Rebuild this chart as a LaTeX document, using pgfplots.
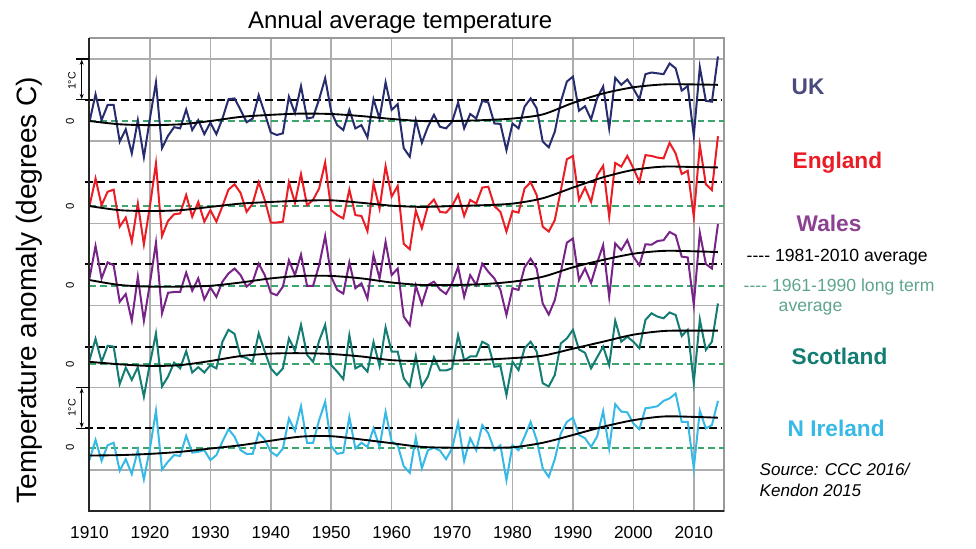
\documentclass[border=0pt]{standalone}
\usepackage{pgfplots}
\usepackage{pgfplotstable}
\pgfplotsset{compat=1.18}
\usepackage{fontspec}
\setmainfont{Liberation Sans}
\usetikzlibrary{arrows.meta}

\definecolor{ukc}{RGB}{38,44,110}
\definecolor{enc}{RGB}{235,28,36}
\definecolor{wac}{RGB}{120,35,135}
\definecolor{scc}{RGB}{20,125,115}
\definecolor{nic}{RGB}{55,185,230}
\definecolor{grn}{RGB}{60,165,110}
\definecolor{grntxt}{RGB}{95,165,140}
\definecolor{uklab}{RGB}{75,75,125}
\definecolor{walab}{RGB}{140,65,145}

% annual anomalies (degC) against 1961-1990
\pgfplotstableread{
yr uk en wa sc ni
1910 -0.02 0.00 0.18 0.10 -0.30
1911 0.65 0.67 0.97 0.62 0.19
1912 0.02 0.02 0.18 0.06 -0.32
1913 0.39 0.35 0.57 0.45 0.06
1914 0.39 0.40 0.50 0.43 0.12
1915 -0.50 -0.50 -0.39 -0.48 -0.56
1916 -0.20 -0.28 -0.20 -0.08 -0.28
1917 -0.79 -0.87 -0.85 -0.38 -0.64
1918 0.02 0.06 0.22 -0.07 -0.06
1919 -0.88 -0.93 -0.85 -0.79 -0.77
1920 0.06 0.00 0.06 0.02 -0.02
1921 0.94 1.04 1.05 0.75 0.90
1922 -0.66 -0.73 -0.67 -0.54 -0.53
1923 -0.36 -0.36 -0.17 -0.30 -0.34
1924 -0.15 -0.20 -0.15 0.04 -0.18
1925 -0.18 -0.18 -0.15 -0.10 -0.20
1926 0.28 0.27 0.32 0.32 0.29
1927 -0.22 -0.26 -0.12 -0.20 -0.12
1928 0.02 0.10 0.18 -0.07 -0.10
1929 -0.32 -0.38 -0.33 -0.20 -0.06
1930 -0.04 -0.10 -0.04 -0.02 -0.30
1931 -0.32 -0.38 -0.27 -0.10 -0.18
1932 0.06 0.00 0.10 0.55 0.15
1933 0.53 0.40 0.30 0.84 0.45
1934 0.55 0.53 0.42 0.74 0.27
1935 0.27 0.32 0.26 0.19 -0.06
1936 -0.03 -0.14 -0.02 0.15 -0.15
1937 0.06 0.06 0.10 0.06 -0.15
1938 0.63 0.58 0.54 0.75 0.36
1939 0.19 0.15 0.26 0.31 0.20
1940 -0.28 -0.40 -0.17 -0.10 -0.10
1941 -0.34 -0.40 -0.23 -0.26 -0.20
1942 -0.30 -0.38 -0.02 -0.10 -0.02
1943 0.59 0.58 0.62 0.63 0.71
1944 0.19 0.08 0.26 0.33 0.41
1945 0.85 0.78 0.76 0.96 1.01
1946 0.06 0.02 0.00 0.23 0.12
1947 0.09 0.15 0.00 0.06 0.12
1948 0.53 0.43 0.50 0.57 0.67
1949 1.04 1.06 1.21 0.96 1.12
1950 0.23 -0.10 0.22 -0.02 0.04
1951 -0.10 -0.22 -0.10 -0.18 -0.15
1952 -0.22 -0.30 -0.19 -0.36 -0.12
1953 0.27 0.40 0.57 0.71 0.75
1954 -0.18 -0.22 -0.06 -0.10 -0.02
1955 -0.10 -0.24 0.06 -0.02 0.12
1956 -0.40 -0.61 -0.31 -0.18 0.02
1957 0.53 0.55 0.75 0.54 0.47
1958 0.06 -0.06 0.18 -0.04 0.02
1959 0.94 0.97 1.07 0.90 0.87
1960 0.27 0.23 0.26 0.31 0.15
1961 0.41 0.49 0.42 0.31 0.06
1962 -0.66 -0.92 -0.75 -0.34 -0.45
1963 -0.87 -1.05 -0.96 -0.54 -0.61
1964 0.02 -0.11 0.00 0.20 0.25
1965 -0.53 -0.54 -0.45 -0.54 -0.50
1966 -0.14 0.00 0.02 -0.30 -0.06
1967 0.15 0.16 0.10 0.17 0.00
1968 -0.14 -0.14 -0.09 -0.15 -0.07
1969 -0.18 -0.16 -0.20 -0.15 -0.28
1970 -0.02 0.00 0.06 -0.10 -0.02
1971 0.45 0.28 0.46 0.71 0.61
1972 -0.18 -0.24 -0.27 0.10 -0.32
1973 0.17 0.15 0.26 0.19 0.23
1974 0.06 0.06 0.02 0.19 -0.06
1975 0.49 0.45 0.54 0.55 0.55
1976 0.45 0.47 0.34 0.47 0.35
1977 -0.06 0.00 0.18 -0.06 -0.06
1978 -0.07 -0.14 -0.10 -0.04 0.06
1979 -0.71 -0.62 -0.71 -0.75 -0.79
1980 -0.06 -0.12 -0.06 0.06 0.06
1981 -0.18 -0.16 -0.10 -0.14 -0.06
1982 0.35 0.43 0.45 0.39 0.27
1983 0.55 0.58 0.66 0.55 0.63
1984 0.31 0.27 0.42 0.31 0.19
1985 -0.50 -0.50 -0.43 -0.46 -0.50
1986 -0.64 -0.62 -0.70 -0.54 -0.71
1987 -0.26 -0.34 -0.35 -0.26 -0.28
1988 0.47 0.39 0.34 0.51 0.35
1989 0.96 1.14 1.05 0.63 0.63
1990 1.08 1.22 1.15 0.84 0.73
1991 0.25 0.15 0.14 0.36 0.31
1992 0.36 0.45 0.42 0.28 0.23
1993 0.04 0.10 0.07 -0.10 0.02
1994 0.55 0.75 0.56 0.17 0.27
1995 0.84 0.98 0.99 0.43 0.89
1996 -0.18 -0.26 -0.27 -0.02 -0.02
1997 1.05 1.05 1.03 1.06 1.06
1998 0.88 0.96 0.87 0.55 0.88
1999 1.01 1.22 1.11 0.67 0.86
2000 0.79 0.92 0.71 0.55 0.59
2001 0.53 0.59 0.50 0.39 0.45
2002 1.14 1.24 1.01 1.08 0.96
2003 1.18 1.22 1.00 1.24 0.98
2004 1.16 1.18 1.09 1.16 1.01
2005 1.14 1.16 1.11 1.12 1.14
2006 1.40 1.54 1.31 1.26 1.20
2007 1.28 1.28 1.23 1.20 1.32
2008 0.74 0.78 0.71 0.69 0.63
2009 0.85 0.86 0.69 0.84 0.63
2010 -0.36 -0.26 -0.46 -0.45 -0.50
2011 1.31 1.48 1.29 1.09 0.90
2012 0.49 0.53 0.53 0.35 0.47
2013 0.47 0.39 0.42 0.55 0.55
2014 1.57 1.70 1.50 1.48 1.14
}\annual

% smoothed trend
\pgfplotstableread{
yr uk en wa sc ni
1910 0.00 0.00 0.14 0.06 -0.19
1915 -0.08 -0.10 0.02 0.00 -0.18
1920 -0.10 -0.12 -0.02 -0.04 -0.15
1925 -0.08 -0.10 -0.02 -0.02 -0.10
1930 0.00 -0.02 0.00 0.08 -0.02
1935 0.10 0.06 0.08 0.20 0.06
1940 0.15 0.10 0.18 0.26 0.17
1945 0.18 0.13 0.24 0.27 0.27
1950 0.17 0.14 0.24 0.25 0.28
1955 0.12 0.08 0.18 0.19 0.20
1960 0.05 0.01 0.08 0.10 0.11
1965 0.00 -0.02 0.02 0.08 0.02
1970 0.00 0.00 0.02 0.09 0.00
1975 0.02 0.02 0.04 0.11 0.00
1980 0.06 0.06 0.10 0.15 0.01
1985 0.16 0.19 0.22 0.21 0.12
1990 0.44 0.45 0.45 0.38 0.31
1995 0.67 0.70 0.63 0.55 0.51
2000 0.82 0.88 0.78 0.72 0.67
2005 0.89 0.96 0.85 0.81 0.76
2010 0.89 0.95 0.84 0.82 0.75
2014 0.88 0.94 0.82 0.82 0.73
}\trend

\begin{document}
\begin{tikzpicture}
	\path[use as bounding box] (0,0) rectangle (732pt,-411.75pt);
	\begin{axis}[
		at={(67.125pt,-383.25pt)}, anchor=south west,
		scale only axis, width=475.875pt, height=354.75pt,
		xmin=1910, xmax=2015, ymin=-1.54, ymax=9.97,
		xtick={1910,1920,...,2010},
		ytick={-0.54,1.46,3.46,5.46,7.46,9.46},
		yticklabels={},
		major tick length=0pt,
		grid=major,
		grid style={draw=black!32, line width=1.1pt},
		axis line style={draw=black!40, line width=1pt},
		/pgf/number format/assume math mode=true,
		/pgf/number format/1000 sep={},
		xticklabel style={font=\fontsize{13}{14}\selectfont, yshift=-8pt},
		clip=false,
		]
		% 1961-1990 zero lines
		\addplot[grn, line width=1.2pt, dash pattern=on 5pt off 3pt] coordinates {(1910,7.95) (2015,7.95)};
		\addplot[grn, line width=1.2pt, dash pattern=on 5pt off 3pt] coordinates {(1910,5.88) (2015,5.88)};
		\addplot[grn, line width=1.2pt, dash pattern=on 5pt off 3pt] coordinates {(1910,3.94) (2015,3.94)};
		\addplot[grn, line width=1.2pt, dash pattern=on 5pt off 3pt] coordinates {(1910,2.03) (2015,2.03)};
		\addplot[grn, line width=1.2pt, dash pattern=on 5pt off 3pt] coordinates {(1910,0) (2015,0)};
		% 1981-2010 averages
		\addplot[black, line width=1.5pt, dash pattern=on 6pt off 3pt] coordinates {(1909.3,8.47) (2014.7,8.47)};
		\addplot[black, line width=1.5pt, dash pattern=on 6pt off 3pt] coordinates {(1909.3,6.46) (2014.7,6.46)};
		\addplot[black, line width=1.5pt, dash pattern=on 6pt off 3pt] coordinates {(1909.3,4.46) (2014.7,4.46)};
		\addplot[black, line width=1.5pt, dash pattern=on 6pt off 3pt] coordinates {(1909.3,2.46) (2014.7,2.46)};
		\addplot[black, line width=1.5pt, dash pattern=on 6pt off 3pt] coordinates {(1909.3,0.47) (2014.7,0.47)};
		% annual series
		\addplot[ukc, line width=1.5pt] table[x=yr, y expr=\thisrow{uk}+7.95] {\annual};
		\addplot[enc, line width=1.5pt] table[x=yr, y expr=\thisrow{en}+5.88] {\annual};
		\addplot[wac, line width=1.5pt] table[x=yr, y expr=\thisrow{wa}+3.94] {\annual};
		\addplot[scc, line width=1.5pt] table[x=yr, y expr=\thisrow{sc}+2.03] {\annual};
		\addplot[nic, line width=1.5pt] table[x=yr, y expr=\thisrow{ni}] {\annual};
		% trends
		\addplot[black, line width=1.4pt, smooth] table[x=yr, y expr=\thisrow{uk}+7.95] {\trend};
		\addplot[black, line width=1.4pt, smooth] table[x=yr, y expr=\thisrow{en}+5.88] {\trend};
		\addplot[black, line width=1.4pt, smooth] table[x=yr, y expr=\thisrow{wa}+3.94] {\trend};
		\addplot[black, line width=1.4pt, smooth] table[x=yr, y expr=\thisrow{sc}+2.03] {\trend};
		\addplot[black, line width=1.4pt, smooth] table[x=yr, y expr=\thisrow{ni}] {\trend};
		\draw[black!85, line width=1.5pt] (rel axis cs:0,1) -- (rel axis cs:0,0) -- (rel axis cs:1,0);
	\end{axis}
	\begin{scope}[x=0.75pt, y=-0.75pt]
		\node[anchor=base west, font=\fontsize{18}{20}\selectfont] at (243.3,29) {Annual average temperature};
		\node[rotate=90, anchor=base west, font=\fontsize{21}{23}\selectfont] at (36.7,508) {Temperature anomaly (degrees C)};
		% 1 degree scale marks
		\draw[black, line width=0.9pt] (76,59) -- (89,59) (76,99.7) -- (89,99.7);
		\draw[{Stealth[length=4pt,width=3pt]}-{Stealth[length=4pt,width=3pt]}, line width=0.6pt] (81.7,59.5) -- (81.7,99.2);
		\draw[black, line width=0.9pt] (76,387.5) -- (89,387.5) (76,428.3) -- (89,428.3);
		\draw[{Stealth[length=4pt,width=3pt]}-{Stealth[length=4pt,width=3pt]}, line width=0.6pt] (81.7,388) -- (81.7,427.8);
		\node[rotate=90, font=\fontsize{8}{9}\selectfont] at (72,81) {1°C};
		\node[rotate=90, font=\fontsize{8}{9}\selectfont] at (72,408) {1°C};
		\foreach \yy in {121,206,285.7,364.3,447.7}
			\node[rotate=90, font=\fontsize{8.5}{9}\selectfont] at (70,\yy) {0};
		% region labels
		\node[anchor=base west, font=\fontsize{17}{19}\selectfont\bfseries, text=uklab] at (787,95) {UK};
		\node[anchor=base west, font=\fontsize{17}{19}\selectfont\bfseries, text=enc] at (788,168.3) {England};
		\node[anchor=base west, font=\fontsize{17}{19}\selectfont\bfseries, text=walab] at (792,231.7) {Wales};
		\node[anchor=base west, font=\fontsize{13.2}{15}\selectfont] at (742,261.7) {-{}-{}-{}- 1981-2010 average};
		\node[anchor=base west, font=\fontsize{13.2}{15}\selectfont, text=grntxt] at (739,292) {-{}-{}-{}- 1961-1990 long term};
		\node[anchor=base west, font=\fontsize{13.2}{15}\selectfont, text=grntxt] at (774,311.7) {average};
		\node[anchor=base west, font=\fontsize{17}{19}\selectfont\bfseries, text=scc] at (787,365) {Scotland};
		\node[anchor=base west, font=\fontsize{17}{19}\selectfont\bfseries, text=nic] at (783,436) {N Ireland};
		\node[anchor=base west, font=\fontsize{12.8}{15}\selectfont\itshape] at (755,475) {Source: CCC 2016/};
		\node[anchor=base west, font=\fontsize{12.8}{15}\selectfont\itshape] at (755,496.7) {Kendon 2015};
	\end{scope}
\end{tikzpicture}
\end{document}
